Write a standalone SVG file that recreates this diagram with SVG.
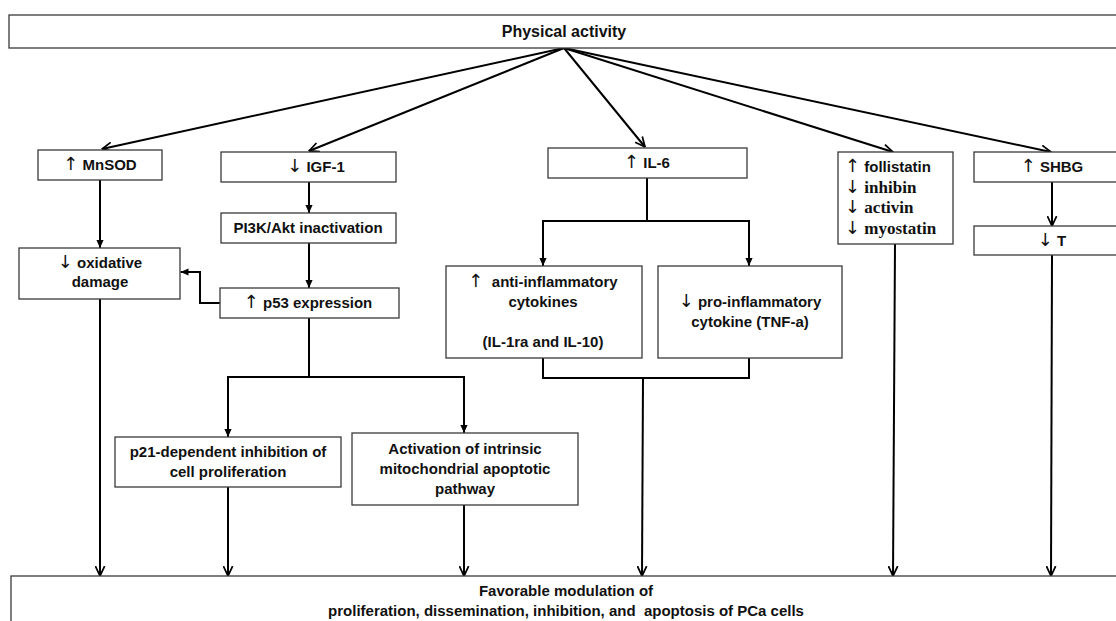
<svg xmlns="http://www.w3.org/2000/svg" width="1116" height="621" viewBox="0 0 1116 621">
<style>
.box{fill:#fff;stroke:#3a3a3a;stroke-width:1.3}
.t{font-family:"Liberation Sans",Arial,"DejaVu Sans",sans-serif;font-weight:bold;font-size:15px;fill:#111;text-anchor:middle}
.tl{font-family:"Liberation Sans",Arial,"DejaVu Sans",sans-serif;font-weight:bold;font-size:15px;fill:#111}
.ts{font-family:"Liberation Serif","Times New Roman",serif;font-weight:bold;font-size:17px;fill:#111}
.a{font-family:"DejaVu Sans",sans-serif;font-weight:normal;font-size:18px;fill:#111}
.c{fill:none;stroke:#000;stroke-width:2}
.o{marker-end:url(#open)}
.f{marker-end:url(#fill)}
</style>
<defs>
<marker id="open" viewBox="0 0 10 10" refX="9.5" refY="5" markerWidth="11" markerHeight="11" markerUnits="userSpaceOnUse" orient="auto">
<path d="M0.5,0.8 L9.5,5 L0.5,9.2" fill="none" stroke="#000" stroke-width="1.6"/>
</marker>
<marker id="fill" viewBox="0 0 10 10" refX="10" refY="5" markerWidth="8" markerHeight="8" markerUnits="userSpaceOnUse" orient="auto">
<path d="M0,0.5 L10,5 L0,9.5 z" fill="#000"/>
</marker>
</defs>

<g id="connectors">
<line class="c o" x1="564" y1="48" x2="102" y2="149"/>
<line class="c o" x1="564" y1="48" x2="309" y2="151"/>
<line class="c o" x1="564" y1="48" x2="645" y2="147"/>
<line class="c o" x1="564" y1="48" x2="893" y2="152"/>
<line class="c o" x1="564" y1="48" x2="1051" y2="152"/>
<line class="c f" x1="100" y1="180" x2="100" y2="248"/>
<line class="c f" x1="309" y1="182" x2="309" y2="213"/>
<line class="c f" x1="309" y1="243" x2="309" y2="288"/>
<polyline class="c f" points="220,303 200,303 200,272 180.5,272"/>
<line class="c" x1="309" y1="318" x2="309" y2="377"/>
<line class="c" x1="227" y1="377" x2="465" y2="377"/>
<line class="c f" x1="228" y1="377" x2="228" y2="437"/>
<line class="c f" x1="464" y1="377" x2="464" y2="433"/>
<line class="c" x1="647" y1="178" x2="647" y2="221"/>
<line class="c" x1="542" y1="221" x2="750" y2="221"/>
<line class="c f" x1="543" y1="221" x2="543" y2="266"/>
<line class="c f" x1="749" y1="221" x2="749" y2="266"/>
<polyline class="c" points="543,358 543,378 749,378 749,358"/>
<line class="c o" x1="1052" y1="182" x2="1052" y2="226"/>
<line class="c o" x1="100" y1="299" x2="100" y2="576"/>
<line class="c o" x1="228" y1="487" x2="228" y2="576"/>
<line class="c o" x1="464" y1="505" x2="464" y2="576"/>
<line class="c o" x1="643" y1="378" x2="642" y2="576"/>
<line class="c o" x1="895" y1="244" x2="893" y2="576"/>
<line class="c o" x1="1052" y1="255" x2="1051" y2="576"/>
</g>

<g id="physical-activity">
<rect class="box" x="9" y="15" width="1200" height="33"/>
<text class="t" x="564" y="37" style="font-size:16px">Physical activity</text>
</g>
<g id="mnsod">
<rect class="box" x="38" y="150" width="124" height="30"/>
<text class="t" x="100" y="170"><tspan class="a">↑</tspan> MnSOD</text>
</g>
<g id="igf1">
<rect class="box" x="221" y="152" width="175" height="30"/>
<text class="t" x="316" y="172"><tspan class="a">↓</tspan> IGF-1</text>
</g>
<g id="il6">
<rect class="box" x="548" y="148" width="199" height="30"/>
<text class="t" x="647" y="168"><tspan class="a">↑</tspan> IL-6</text>
</g>
<g id="follistatin">
<rect class="box" x="838" y="152" width="115" height="92"/>
<text class="tl" x="845" y="172"><tspan class="a">↑</tspan> follistatin</text>
<text class="ts" x="845" y="193"><tspan class="a">↓</tspan> inhibin</text>
<text class="ts" x="845" y="213"><tspan class="a">↓</tspan> activin</text>
<text class="ts" x="845" y="234"><tspan class="a">↓</tspan> myostatin</text>
</g>
<g id="shbg">
<rect class="box" x="974" y="152" width="200" height="30"/>
<text class="t" x="1052" y="172"><tspan class="a">↑</tspan> SHBG</text>
</g>
<g id="t">
<rect class="box" x="974" y="226" width="200" height="29"/>
<text class="t" x="1052" y="246"><tspan class="a">↓</tspan> T</text>
</g>
<g id="oxidative">
<rect class="box" x="19" y="248" width="161" height="51"/>
<text class="t" x="100" y="268"><tspan class="a">↓</tspan> oxidative</text>
<text class="t" x="100" y="287">damage</text>
</g>
<g id="pi3k">
<rect class="box" x="221" y="213" width="175" height="30"/>
<text class="t" x="308" y="233">PI3K/Akt inactivation</text>
</g>
<g id="p53">
<rect class="box" x="220" y="288" width="179" height="30"/>
<text class="t" x="308" y="308"><tspan class="a">↑</tspan> p53 expression</text>
</g>
<g id="anti">
<rect class="box" x="446" y="266" width="196" height="92"/>
<text class="t" x="543" y="287" xml:space="preserve"><tspan class="a">↑</tspan>  anti-inflammatory</text>
<text class="t" x="543" y="307">cytokines</text>
<text class="t" x="543" y="347">(IL-1ra and IL-10)</text>
</g>
<g id="pro">
<rect class="box" x="658" y="266" width="184" height="92"/>
<text class="t" x="750" y="307"><tspan class="a">↓</tspan> pro-inflammatory</text>
<text class="t" x="750" y="327">cytokine (TNF-a)</text>
</g>
<g id="p21">
<rect class="box" x="115" y="437" width="226" height="50"/>
<text class="t" x="228" y="457">p21-dependent inhibition of</text>
<text class="t" x="228" y="477">cell proliferation</text>
</g>
<g id="activation">
<rect class="box" x="352" y="433" width="226" height="72"/>
<text class="t" x="465" y="454">Activation of intrinsic</text>
<text class="t" x="465" y="474">mitochondrial apoptotic</text>
<text class="t" x="465" y="494">pathway</text>
</g>
<g id="outcome">
<rect class="box" x="11" y="576" width="1200" height="100"/>
<text class="t" x="566" y="596">Favorable modulation of</text>
<text class="t" x="566" y="616" xml:space="preserve">proliferation, dissemination, inhibition, and  apoptosis of PCa cells</text>
</g>
</svg>
